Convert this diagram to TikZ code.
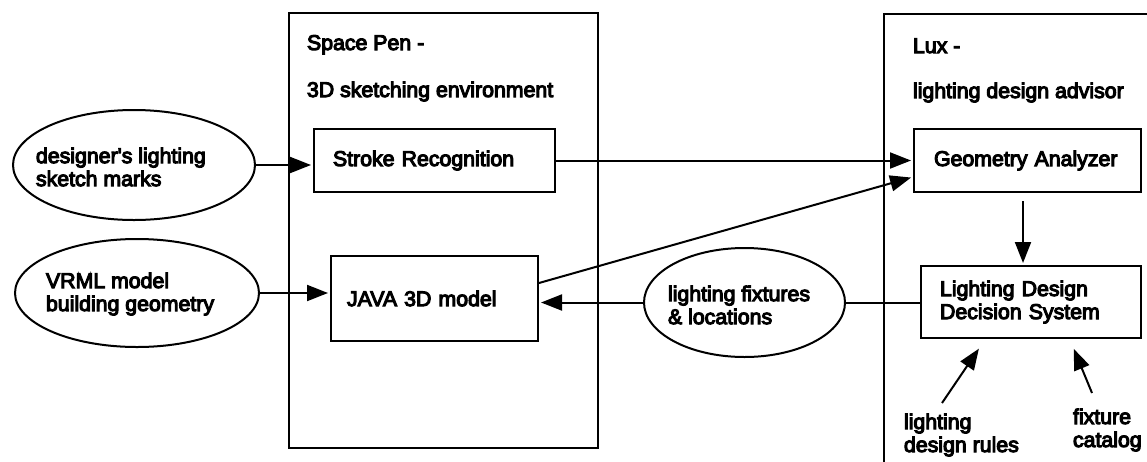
\documentclass[tikz,border=0pt]{standalone}
\usepackage{fontspec}
\setmainfont{Liberation Sans}
\font\lblfont="Liberation Sans:embolden=5" at 21.3pt
\newcommand\lblstyle{\lblfont\baselineskip=23pt\relax}
\usetikzlibrary{arrows.meta,shapes.geometric}

\tikzset{
  frame/.style={draw,rectangle,inner sep=0pt},
  unit/.style={draw,rectangle,align=left,inner ysep=0pt},
  blob/.style={draw,ellipse,inner sep=0pt},
  caption/.style={anchor=west,align=left,inner sep=0pt},
  title/.style={anchor=base west,inner sep=0pt},
  arr/.style={-{Triangle[length=21pt,width=16pt]},shorten >=2pt}
}

\begin{document}
\begin{tikzpicture}[x=1pt,y=-1pt,line width=2pt,font=\lblstyle]
\useasboundingbox (0,0) rectangle (1147,461);
\clip (0,0) rectangle (1147,461);
% the two programs
\node[frame,minimum width=309pt,minimum height=435pt] (spacepen) at (443.5,230.5) {};
\node[frame,minimum width=316pt,minimum height=486pt] (lux) at (1042,257) {};
\node[title] (spacepen-name) at (306,50) {Space Pen -};
\node[title] (spacepen-role) at (306,97) {3D sketching environment};
\node[title] (lux-name) at (912,53) {Lux -};
\node[title] (lux-role) at (912,98) {lighting design advisor};
% the modules inside them
\node[unit,minimum width=241pt,minimum height=63pt,text width=203pt,inner xsep=19pt] (stroke) at (434.5,160.5) {Stroke Recognition};
\node[unit,minimum width=207pt,minimum height=85pt,text width=175pt,inner xsep=16pt] (java) at (434.5,298.5) {JAVA 3D model};
\node[unit,minimum width=227pt,minimum height=63pt,text width=187pt,inner xsep=20pt] (geo) at (1027.5,160.5) {Geometry Analyzer};
\node[unit,minimum width=220pt,minimum height=72pt,text width=182pt,inner xsep=19pt] (ldd) at (1031,302) {Lighting Design\\Decision System};
% the data
\node[blob,minimum width=242pt,minimum height=110pt] (designer) at (134,165) {};
\node[caption] (designer-text) at (35,167) {designer's lighting\\sketch marks};
\node[blob,minimum width=244pt,minimum height=108pt] (vrml) at (137,293) {};
\node[caption] (vrml-text) at (45,294) {VRML model\\building geometry};
\node[blob,minimum width=201pt,minimum height=109pt] (fixtures) at (744.5,302.5) {};
\node[caption] (fixtures-text) at (667,305) {lighting fixtures\\\& locations};
\node[caption] (rules) at (903,435) {lighting\\design rules};
\node[caption] (catalog) at (1072,430) {fixture\\catalog};
% the connectors
\draw[arr] (designer.east) -- (designer.east -| stroke.west);
\draw[arr] (vrml.east) -- (vrml.east -| java.west);
\draw[arr] (stroke.east) -- (stroke.east -| geo.west);
\draw[arr] ([yshift=15.5pt]java.east) -- ([yshift=-16.5pt]geo.west);
\draw[arr,shorten <=8pt] ([xshift=-4.5pt]geo.south) -- ([xshift=-4.5pt]geo.south |- ldd.north);
\draw[arr] (fixtures.west) -- (fixtures.west -| java.east);
\draw (fixtures.east) -- (fixtures.east -| ldd.west);
% the inputs from below
\coordinate (rules-foot) at (942,403);
\coordinate (rules-tip) at (980,347);
\coordinate (catalog-foot) at (1092,393);
\coordinate (catalog-tip) at (1073,347);
\draw[arr] (rules-foot) -- (rules-tip);
\draw[arr] (catalog-foot) -- (catalog-tip);
\end{tikzpicture}
\end{document}
